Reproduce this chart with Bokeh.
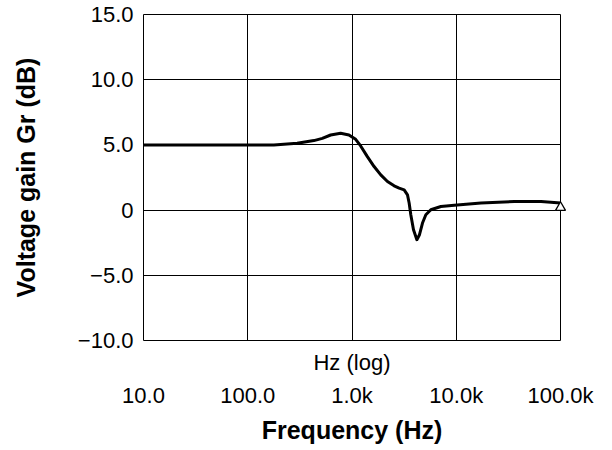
from bokeh.plotting import figure
from bokeh.models import LogAxis, FixedTicker, CustomJSTickFormatter, Range1d
from bokeh.embed import file_html
from bokeh.resources import INLINE

# ---- data ----
freq_hz = [10, 100, 178, 298, 431, 519, 624, 778, 935, 1084, 1211, 1404, 1629,
           1888, 2188, 2536, 2833, 3164, 3406, 3533, 3665, 3890, 4190, 4440,
           4745, 5108, 5705, 7122, 9572, 17270, 36120, 65140, 100000]
gain_db = [5.0, 5.0, 5.0, 5.12, 5.33, 5.50, 5.76, 5.89, 5.76, 5.43, 4.92, 4.10,
           3.34, 2.70, 2.19, 1.86, 1.68, 1.55, 1.17, 0.54, -0.36, -1.50, -2.27,
           -1.89, -0.99, -0.36, 0.03, 0.28, 0.38, 0.54, 0.66, 0.66, 0.54]
end_marker_freq = [100000]
end_marker_db = [0.2]

x_ticks = [10, 100, 1000, 10000, 100000]
x_tick_labels = ["10.0", "100.0", "1.0k", "10.0k", "100.0k"]
y_ticks = [-10, -5, 0, 5, 10, 15]
y_tick_labels = ["\u221210.0", "\u22125.0", "0", "5.0", "10.0", "15.0"]

FONT = "Liberation Sans"

p = figure(width=600, height=446, x_axis_type="log",
           x_range=Range1d(10, 100000), y_range=Range1d(-10, 15),
           output_backend="svg", toolbar_location=None,
           min_border_left=143, min_border_top=14, min_border_right=40,
           min_border_bottom=105)

p.background_fill_color = "white"
p.border_fill_color = "white"
p.outline_line_color = "black"
p.outline_line_width = 1

# grids
p.xgrid.ticker = FixedTicker(ticks=x_ticks)
p.ygrid.ticker = FixedTicker(ticks=y_ticks)
for g in (p.xgrid, p.ygrid):
    g.grid_line_color = "black"
    g.grid_line_width = 1
    g.grid_line_alpha = 1.0

x_fmt = CustomJSTickFormatter(args=dict(tvals=x_ticks, tlabels=x_tick_labels), code="""
let best = -1, bd = Infinity;
for (let i = 0; i < tvals.length; i++) {
  const d = Math.abs(Math.log10(tick) - Math.log10(tvals[i]));
  if (d < bd) { bd = d; best = i; }
}
return bd < 1e-6 ? tlabels[best] : "";
""")
y_fmt = CustomJSTickFormatter(args=dict(tvals=y_ticks, tlabels=y_tick_labels), code="""
let best = -1, bd = Infinity;
for (let i = 0; i < tvals.length; i++) {
  const d = Math.abs(tick - tvals[i]);
  if (d < bd) { bd = d; best = i; }
}
return bd < 1e-6 ? tlabels[best] : "";
""")
blank_fmt = CustomJSTickFormatter(code="return '';")

# first x axis: only the "Hz (log)" caption
xa = p.xaxis[0]
xa.ticker = FixedTicker(ticks=x_ticks)
xa.formatter = blank_fmt
xa.major_label_text_font_size = "0px"
xa.major_label_standoff = 0
xa.major_tick_out = 0
xa.major_tick_in = 0
xa.minor_tick_out = 0
xa.minor_tick_in = 0
xa.axis_line_color = None
xa.axis_label = "Hz (log)"
xa.axis_label_text_font = FONT
xa.axis_label_text_font_size = "22px"
xa.axis_label_text_font_style = "normal"
xa.axis_label_text_color = "black"
xa.axis_label_standoff = 9

# second x axis: tick labels + title
xa2 = LogAxis(ticker=FixedTicker(ticks=x_ticks), formatter=x_fmt)
xa2.major_tick_out = 0
xa2.major_tick_in = 0
xa2.minor_tick_out = 0
xa2.minor_tick_in = 0
xa2.axis_line_color = None
xa2.major_label_standoff = 5
xa2.major_label_text_font = FONT
xa2.major_label_text_font_size = "22px"
xa2.major_label_text_color = "black"
xa2.axis_label = "Frequency (Hz)"
xa2.axis_label_text_font = FONT
xa2.axis_label_text_font_size = "25px"
xa2.axis_label_text_font_style = "bold"
xa2.axis_label_text_color = "black"
xa2.axis_label_standoff = 5
p.add_layout(xa2, "below")

# y axis
ya = p.yaxis[0]
ya.ticker = FixedTicker(ticks=y_ticks)
ya.formatter = y_fmt
ya.major_tick_out = 0
ya.major_tick_in = 0
ya.minor_tick_out = 0
ya.minor_tick_in = 0
ya.axis_line_color = None
ya.major_label_standoff = 10
ya.major_label_text_font = FONT
ya.major_label_text_font_size = "22px"
ya.major_label_text_color = "black"
ya.axis_label = "Voltage gain Gr (dB)"
ya.axis_label_text_font = FONT
ya.axis_label_text_font_size = "25px"
ya.axis_label_text_font_style = "bold"
ya.axis_label_text_color = "black"
ya.axis_label_standoff = 35

p.line(freq_hz, gain_db, line_width=3, line_color="black", line_join="round")
p.scatter(end_marker_freq, end_marker_db, marker="triangle", size=10,
          fill_color="white", line_color="black", line_width=1.3,
          level="overlay")

open("out.html", "w").write(file_html(p, INLINE))
